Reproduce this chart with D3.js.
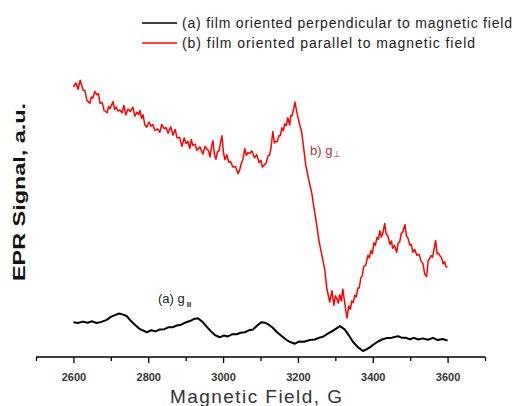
<!DOCTYPE html>
<html><head><meta charset="utf-8">
<script src="https://cdn.jsdelivr.net/npm/d3@7"></script>
<style>body{margin:0;background:#fff}svg{display:block}</style>
</head><body>
<script>
const legendLabels = ["(a) film oriented perpendicular to magnetic field", "(b) film oriented parallel to magnetic field"];
const seriesColors = ["#000000", "#ff0000"];
const xTicksMajor = [2600, 2800, 3000, 3200, 3400, 3600];
const xTicksMinor = [2500, 2700, 2900, 3100, 3300, 3500, 3700];

const blackField = [2600,2612,2625,2638,2650,2662,2675,2689,2700,2711,2722,2733,2742,2751,2765,2778,2787,2796,2808,2820,2831,2843,2855,2866,2876,2888,2900,2911,2922,2933,2945,2956,2967,2978,2991,3002,3013,3025,3036,3047,3058,3069,3080,3092,3103,3112,3120,3132,3143,3157,3170,3181,3192,3204,3216,3232,3245,3256,3267,3280,3294,3303,3312,3325,3336,3347,3360,3374,3383,3392,3403,3414,3425,3437,3447,3458,3468,3478,3489,3499,3510,3522,3534,3547,3561,3574,3587,3600];
const blackSignal = [12.8,12.5,13.0,12.6,13.1,12.5,12.9,13.6,14.7,15.3,15.9,15.5,15.0,13.6,11.8,10.3,9.8,9.2,9.9,9.5,10.2,10.3,11.0,11.0,11.6,11.9,12.7,13.2,13.9,14.2,12.9,11.2,9.6,8.2,7.4,8.0,7.7,8.5,8.5,9.0,9.2,9.9,10.2,11.7,12.8,12.6,12.1,10.9,9.4,7.8,6.4,5.6,5.1,5.9,5.8,6.4,6.6,7.2,7.6,8.7,9.8,10.6,11.4,10.2,8.1,5.8,3.9,2.5,3.1,3.8,4.9,5.9,6.6,7.1,7.1,7.5,7.8,7.2,7.2,6.7,7.2,6.6,7.0,6.5,7.2,6.4,6.8,6.2];

const redField = [2600,2607,2612,2618,2626,2631,2636,2644,2648,2652,2657,2663,2667,2671,2677,2682,2690,2694,2698,2702,2706,2710,2714,2719,2724,2730,2735,2740,2746,2752,2759,2764,2770,2774,2778,2782,2786,2791,2796,2802,2807,2812,2818,2825,2831,2836,2842,2848,2853,2860,2866,2872,2877,2884,2890,2896,2901,2906,2911,2915,2919,2925,2930,2938,2946,2952,2957,2961,2965,2969,2973,2977,2981,2985,2989,2993,2997,3001,3005,3010,3015,3020,3026,3033,3040,3044,3048,3053,3058,3062,3066,3072,3077,3084,3090,3096,3101,3105,3109,3115,3120,3124,3128,3133,3137,3141,3145,3149,3153,3157,3161,3165,3169,3173,3178,3181,3184,3189,3192,3197,3201,3205,3210,3216,3221,3229,3237,3243,3251,3256,3261,3267,3272,3277,3285,3291,3296,3300,3304,3308,3312,3316,3320,3325,3331,3336,3340,3344,3348,3352,3356,3360,3364,3368,3372,3376,3381,3387,3391,3395,3399,3403,3407,3411,3415,3419,3423,3427,3432,3436,3440,3446,3450,3453,3458,3464,3468,3472,3476,3480,3486,3490,3494,3499,3503,3507,3512,3518,3524,3529,3534,3539,3544,3548,3552,3556,3560,3564,3568,3572,3576,3580,3584,3588,3592,3596,3600];
const redSignal = [96.8,98.2,96.0,99.2,95.6,95.4,92.0,91.0,93.2,92.8,95.2,94.0,94.4,91.0,91.2,88.4,87.6,89.8,89.0,90.4,91.6,88.8,89.6,88.2,88.6,87.6,90.2,86.8,88.9,88.0,89.6,86.4,87.8,86.9,88.4,85.6,86.9,83.2,82.4,84.3,82.8,83.4,81.3,81.8,80.6,83.4,82.0,82.2,80.3,82.6,79.6,81.6,78.6,78.8,75.6,78.6,76.6,77.4,74.8,78.0,76.0,76.4,74.2,75.4,72.8,75.6,74.6,74.0,71.8,75.4,77.6,72.6,71.0,73.6,74.0,76.8,79.4,73.4,70.8,72.6,70.0,70.2,68.2,68.4,65.8,67.0,69.2,71.0,74.8,72.4,73.3,73.1,74.0,71.5,72.6,69.8,70.6,68.2,68.8,69.6,72.2,72.4,75.0,80.9,76.8,77.4,77.3,79.4,79.4,82.2,81.2,83.7,83.0,85.8,83.2,86.6,86.4,89.2,91.4,87.9,85.5,83.2,80.7,74.3,68.9,63.6,58.9,53.6,46.8,42.1,38.6,34.8,31.4,25.0,20.0,24.0,18.8,22.2,21.2,19.6,22.6,20.4,24.6,19.8,14.3,18.6,17.4,20.4,19.8,22.4,21.8,25.0,25.0,28.6,29.4,32.8,33.0,36.6,35.8,38.4,37.2,41.2,40.2,43.0,42.4,45.4,43.2,44.6,48.0,44.2,43.8,40.6,41.8,39.2,40.2,37.8,41.2,41.4,44.4,45.0,47.6,43.6,42.9,40.3,40.6,37.8,38.8,36.7,37.0,34.6,33.8,30.0,29.0,34.6,35.6,36.6,36.0,39.0,42.0,37.2,37.4,36.4,35.8,33.6,34.4,32.6,32.5];

const W = 529, H = 406;
const svg = d3.select("body").append("svg").attr("width", W).attr("height", H)
  .style("font-family", "Arial, 'Liberation Sans', sans-serif");

const x = d3.scaleLinear().domain([2500, 3700]).range([36, 485]);
const y = d3.scaleLinear().domain([0, 100]).range([358, 78]);
const axisY = 357;

// x axis
const gx = svg.append("g").attr("transform", `translate(0,${axisY})`);
gx.call(d3.axisBottom(x).tickValues(xTicksMinor).tickSize(4).tickFormat(""));
gx.call(g => g.select(".domain").remove());
const gx2 = svg.append("g").attr("transform", `translate(0,${axisY})`);
gx2.call(d3.axisBottom(x).tickValues(xTicksMajor).tickSizeInner(6).tickSizeOuter(0).tickPadding(10).tickFormat(d3.format("d")));
gx2.select(".domain").attr("stroke", "#000").attr("stroke-width", 1.5).attr("d", `M${x.range()[0]},0H${x.range()[1]}`);
svg.selectAll(".tick line").attr("stroke", "#000").attr("stroke-width", 1.3);
gx2.selectAll(".tick text").attr("font-size", 11).attr("font-weight", "bold").attr("fill", "#333").attr("font-family", "Arial, 'Liberation Sans', sans-serif");

// lines
const lineGen = d3.line().x(d => x(d[0])).y(d => y(d[1]));
const blackData = blackField.map((f, i) => [f, blackSignal[i]]);
const redData = redField.map((f, i) => [f, redSignal[i]]);
svg.append("path").datum(blackData).attr("d", lineGen).attr("fill", "none")
  .attr("stroke", seriesColors[0]).attr("stroke-width", 2).attr("stroke-linejoin", "round");
svg.append("path").datum(redData).attr("d", lineGen).attr("fill", "none")
  .attr("stroke", seriesColors[1]).attr("stroke-width", 1.5).attr("stroke-linejoin", "round");

// legend
const legY = [23, 43];
legendLabels.forEach((t, i) => {
  svg.append("line").attr("x1", 142).attr("x2", 177).attr("y1", legY[i]).attr("y2", legY[i])
    .attr("stroke", seriesColors[i]).attr("stroke-width", 1.3);
  svg.append("text").attr("x", 182).attr("y", legY[i] + 5).attr("font-size", 14).attr("fill", "#222")
    .attr("textLength", i === 0 ? 330 : 293).attr("lengthAdjust", "spacing").text(t);
});

// annotations
const a = svg.append("text").attr("x", 158).attr("y", 303).attr("font-size", 13).attr("fill", "#222");
a.append("tspan").text("(a) g");
a.append("tspan").attr("font-size", 8).attr("font-weight", "bold").attr("dx", 2).attr("dy", 4).text("II");
const b = svg.append("text").attr("x", 310).attr("y", 155).attr("font-size", 13).attr("fill", "#a03a3a");
b.append("tspan").text("b) g");
b.append("tspan").attr("font-size", 9).attr("dx", 1).attr("dy", 2).text("⊥");

// axis titles
svg.append("text").attr("transform", "translate(25,192) rotate(-90)").attr("text-anchor", "middle")
  .attr("font-size", 17).attr("font-weight", "bold").attr("fill", "#111")
  .attr("textLength", 178).attr("lengthAdjust", "spacingAndGlyphs").text("EPR Signal, a.u.");
svg.append("text").attr("x", 256).attr("y", 403).attr("text-anchor", "middle")
  .attr("font-size", 19).attr("fill", "#333")
  .attr("textLength", 172).attr("lengthAdjust", "spacing").text("Magnetic Field, G");
</script>
</body></html>
